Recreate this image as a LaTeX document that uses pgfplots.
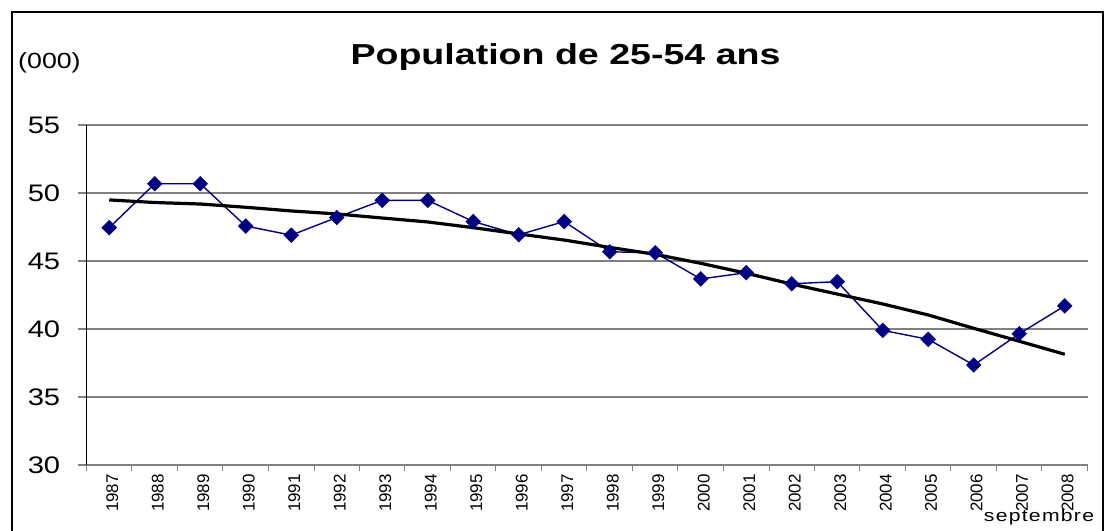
\documentclass[border=0pt]{standalone}
\usepackage{fontspec}
\setmainfont{Liberation Sans}
\newfontfamily\serifbf{Liberation Serif}
\usepackage{pgfplots}
\pgfplotsset{compat=1.18}
\definecolor{navyb}{RGB}{0,0,128}
\definecolor{gridg}{RGB}{128,128,128}
\begin{document}
\begin{tikzpicture}
\useasboundingbox (0bp,0bp) rectangle (1104bp,531bp);
% frame
\draw[line width=2bp] (11.5bp,-10bp) -- (11.5bp,518.5bp) -- (1103bp,518.5bp) -- (1103bp,-10bp);
% cut-off letter at top left
\begin{scope}
\clip (0bp,521bp) rectangle (40bp,531bp);
\node[anchor=base, inner sep=0pt] at (20bp,539bp) {\serifbf\bfseries\fontsize{40}{40}\selectfont p};
\end{scope}
\begin{axis}[
  at={(86.5bp,66bp)}, anchor=south west,
  scale only axis, width=1001bp, height=340bp,
  xmin=1986.5, xmax=2008.5, ymin=30, ymax=55,
  ytick={30,35,40,45,50,55},
  xtick={1987,...,2008},
  minor xtick={1986.5,1987.5,...,2008.5},
  axis x line*=bottom, axis y line*=left,
  x axis line style={draw=gridg, line width=1.2bp, -},
  y axis line style={draw=black, line width=1bp, -},
  ymajorgrids, major grid style={draw=gridg, line width=1.2bp},
  tick align=outside,
  major x tick style={draw=none},
  minor x tick style={draw=gridg, line width=1bp},
  minor tick length=6bp,
  major y tick style={draw=gridg, line width=1.2bp},
  major tick length=9bp,
  /pgf/number format/assume math mode=true,
  /pgf/number format/1000 sep={},
  yticklabel style={font=\fontsize{24}{24}\selectfont, xscale=1.22, inner sep=0pt, anchor=east, xshift=-14bp},
  xticklabel style={font=\fontsize{17}{17}\selectfont, rotate=90, anchor=east, inner sep=0pt, yshift=-3bp},
  xticklabels={1987,1988,1989,1990,1991,1992,1993,1994,1995,1996,1997,1998,1999,2000,2001,2002,2003,2004,2005,2006,2007,2008},
  clip=false,
]
\addplot[color=navyb, line width=1.4bp, mark=square*, mark size=5.2bp, mark options={rotate=45, fill=navyb, draw=navyb, line width=0.5bp}] coordinates {
(1987,47.45) (1988,50.68) (1989,50.68) (1990,47.57) (1991,46.9) (1992,48.2)
(1993,49.46) (1994,49.46) (1995,47.9) (1996,46.93) (1997,47.9) (1998,45.68)
(1999,45.6) (2000,43.68) (2001,44.14) (2002,43.33) (2003,43.48) (2004,39.9)
(2005,39.24) (2006,37.35) (2007,39.65) (2008,41.7)
};
\addplot[color=black, line width=3.2bp, no marks] coordinates {
(1987,49.49) (1988,49.3) (1989,49.19) (1990,48.95) (1991,48.68) (1992,48.46)
(1993,48.16) (1994,47.87) (1995,47.45) (1996,46.99) (1997,46.54) (1998,46.0)
(1999,45.49) (2000,44.83) (2001,44.1) (2002,43.3) (2003,42.57) (2004,41.84)
(2005,41.03) (2006,40.05) (2007,39.1) (2008,38.14)
};
\end{axis}
\node[font=\bfseries\fontsize{29}{29}\selectfont, xscale=1.3, anchor=base] at (565.5bp,466bp) {Population de 25-54 ans};
\node[font=\fontsize{22}{22}\selectfont, xscale=1.22, anchor=base west, inner sep=0pt] at (18bp,462bp) {(000)};
\node[font=\addfontfeatures{LetterSpace=6}\fontsize{17}{17}\selectfont, xscale=1.25, anchor=base, inner sep=0pt] at (1039bp,9.5bp) {septembre};
\end{tikzpicture}
\end{document}
